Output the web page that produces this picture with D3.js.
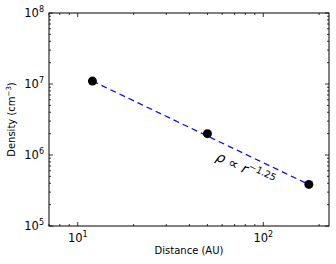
<!DOCTYPE html>
<html><head><meta charset="utf-8">
<script src="https://cdn.jsdelivr.net/npm/d3@7"></script>
<style>body{margin:0;background:#fff}svg{display:block}text{font-family:"DejaVu Sans",sans-serif}</style>
</head><body>
<svg id="c" width="336" height="264"></svg>
<script>
const distance = [12, 50, 176];
const density = [1.1e7, 2.0e6, 3.85e5];
const fitDistance = [12, 176];
const fitDensity = [1.1e7, 3.84e5];
const xDomain = [7, 226];
const yDomain = [1e5, 1e8];
const xMajor = [10, 100];
const yMajor = [1e5, 1e6, 1e7, 1e8];
const annotation = "ρ ∝ r";
const annotationExp = "−1.25";

const svg = d3.select("#c");
const L = 49, R = 329, T = 13, B = 226;
const x = d3.scaleLog().domain(xDomain).range([L, R]);
const y = d3.scaleLog().domain(yDomain).range([B, T]);

// minor ticks
const xMinor = [];
for (let d = 1; d <= 100; d *= 10) for (let k = 2; k <= 9; k++) { const v = k * d; if (v >= xDomain[0] && v <= xDomain[1]) xMinor.push(v); }
const yMinor = [];
for (let d = 1e5; d < 1e8; d *= 10) for (let k = 2; k <= 9; k++) yMinor.push(k * d);

const g = svg.append("g");
const tick = (x1, y1, x2, y2) => g.append("line").attr("x1", x1).attr("y1", y1).attr("x2", x2).attr("y2", y2).attr("stroke", "#000").attr("stroke-width", 0.8);
xMinor.forEach(v => { tick(x(v), B, x(v), B - 2); tick(x(v), T, x(v), T + 2); });
xMajor.forEach(v => { tick(x(v), B, x(v), B - 4); tick(x(v), T, x(v), T + 4); });
yMinor.forEach(v => { tick(L, y(v), L + 2, y(v)); tick(R, y(v), R - 2, y(v)); });
yMajor.forEach(v => { tick(L, y(v), L + 4, y(v)); tick(R, y(v), R - 4, y(v)); });

// fit line
svg.append("path")
  .datum(fitDistance.map((d, i) => [d, fitDensity[i]]))
  .attr("d", d3.line().x(d => x(d[0])).y(d => y(d[1])))
  .attr("fill", "none").attr("stroke", "#0000ff").attr("stroke-width", 1.2)
  .attr("stroke-dasharray", "6,4");

// points
svg.selectAll("circle.pt").data(distance).enter().append("circle")
  .attr("cx", d => x(d)).attr("cy", (d, i) => y(density[i])).attr("r", 4.5).attr("fill", "#000");

// frame
svg.append("rect").attr("x", L).attr("y", T).attr("width", R - L).attr("height", B - T)
  .attr("fill", "none").attr("stroke", "#000").attr("stroke-width", 1);

// tick labels
const exp = v => Math.round(Math.log10(v));
xMajor.forEach(v => {
  const t = svg.append("text").attr("x", x(v)).attr("y", B + 16).attr("text-anchor", "middle").attr("font-size", 11.5);
  t.append("tspan").text("10");
  t.append("tspan").attr("dy", -5).attr("font-size", 8).text(exp(v));
});
yMajor.forEach(v => {
  const t = svg.append("text").attr("x", L - 5).attr("y", y(v) + 4).attr("text-anchor", "end").attr("font-size", 11.5);
  t.append("tspan").text("10");
  t.append("tspan").attr("dy", -5).attr("font-size", 8).text(exp(v));
});

// axis labels
svg.append("text").attr("x", (L + R) / 2).attr("y", 254).attr("text-anchor", "middle").attr("font-size", 10).text("Distance (AU)");
const yl = svg.append("text").attr("transform", `translate(15,${(T + B) / 2}) rotate(-90)`).attr("text-anchor", "middle").attr("font-size", 10);
yl.append("tspan").text("Density (cm");
yl.append("tspan").attr("dy", -4).attr("font-size", 7).text("−3");
yl.append("tspan").attr("dy", 4).text(")");

// annotation
const a = svg.append("text").attr("transform", `translate(215,160) rotate(25)`).attr("font-size", 14).attr("font-style", "italic").attr("font-family", "DejaVu Serif, serif");
a.append("tspan").text(annotation);
a.append("tspan").attr("dy", -6).attr("font-size", 9.5).attr("font-style", "normal").text(annotationExp);
</script>
</body></html>
